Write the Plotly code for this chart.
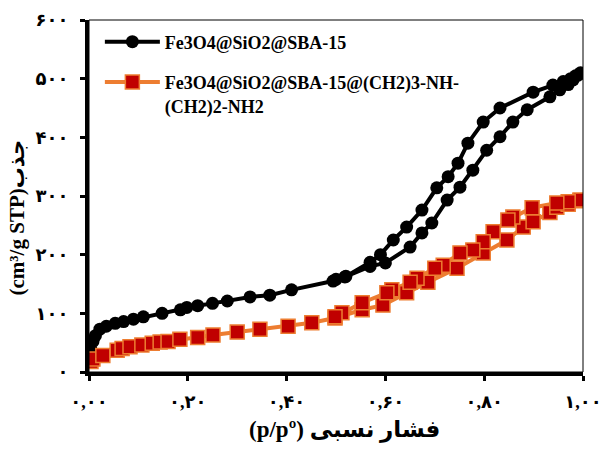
import plotly.graph_objects as go

# Nitrogen sorption isotherm: relative pressure vs adsorbed volume (cm3/g STP)
# Each series runs along the adsorption branch, then back along desorption.
ads_x_sba = [0.002, 0.004, 0.008, 0.013, 0.022, 0.035, 0.053, 0.07, 0.09, 0.11,
             0.148, 0.185, 0.198, 0.22, 0.25, 0.28, 0.326, 0.366, 0.41, 0.494,
             0.518, 0.569, 0.60, 0.65, 0.674, 0.694, 0.725, 0.751, 0.777, 0.805,
             0.832, 0.858, 0.887, 0.933, 0.953, 0.97, 0.98, 0.99]
ads_y_sba = [18, 38, 52, 62, 73, 78, 83, 86, 90, 94,
             100, 106, 110, 113, 117, 121, 128, 131, 140, 155,
             162, 180, 186, 213, 237, 254, 293, 315, 344, 378,
             401, 426, 447, 469, 481, 490, 498, 506]
des_x_sba = [0.995, 0.985, 0.975, 0.96, 0.939, 0.899, 0.832, 0.798, 0.767, 0.747,
             0.727, 0.704, 0.674, 0.643, 0.616, 0.59, 0.569, 0.52, 0.50]
des_y_sba = [510, 505, 500, 495, 489, 477, 450, 426, 390, 356,
             333, 314, 276, 247, 225, 200, 187, 163, 158]

ads_x_amine = [0.004, 0.008, 0.028, 0.057, 0.067, 0.083, 0.107, 0.128, 0.144, 0.16,
               0.184, 0.22, 0.251, 0.30, 0.346, 0.403, 0.451, 0.498, 0.553, 0.595,
               0.643, 0.686, 0.745, 0.798, 0.846, 0.879, 0.899, 0.933, 0.947, 0.97,
               0.994]
ads_y_amine = [18, 22, 28, 37, 40, 43, 46, 49, 51, 52,
               56, 59, 63, 68, 73, 78, 84, 92, 106, 114,
               135, 153, 177, 203, 225, 247, 256, 272, 281, 286,
               292]
des_x_amine = [0.994, 0.97, 0.947, 0.897, 0.858, 0.848, 0.818, 0.798, 0.777, 0.751,
               0.717, 0.70, 0.664, 0.65, 0.613, 0.603, 0.553, 0.512, 0.498]
des_y_amine = [293, 290, 288, 280, 264, 259, 239, 222, 208, 203,
               182, 177, 160, 153, 140, 135, 118, 101, 94]

name_sba = "Fe3O4@SiO2@SBA-15"
name_amine = "Fe3O4@SiO2@SBA-15@(CH2)3-NH-<br>(CH2)2-NH2"

x_tickvals = [0.0, 0.2, 0.4, 0.6, 0.8, 1.0]
x_ticktext = ["۰,۰۰", "۰,۲۰", "۰,۴۰", "۰,۶۰", "۰,۸۰", "۱,۰۰"]
y_tickvals = [0, 100, 200, 300, 400, 500, 600]
y_ticktext = ["۰", "۱۰۰", "۲۰۰", "۳۰۰", "۴۰۰", "۵۰۰", "۶۰۰"]

x_title = "(p/pº) فشار نسبی"
y_title = "(cm³/g STP)جذب"

FONT = "Times New Roman, Liberation Serif, DejaVu Sans, serif"

fig = go.Figure()
fig.add_trace(go.Scatter(
    x=ads_x_sba + des_x_sba, y=ads_y_sba + des_y_sba,
    mode="lines+markers", name=name_sba, legendgroup="a",
    line=dict(color="#000000", width=4),
    marker=dict(symbol="circle", size=13, color="#000000"),
))
fig.add_trace(go.Scatter(
    x=ads_x_amine + des_x_amine, y=ads_y_amine + des_y_amine,
    mode="lines+markers", name=name_amine, legendgroup="b",
    line=dict(color="#ED7D31", width=4),
    marker=dict(symbol="square", size=14, color="#C00000",
                line=dict(color="#ED7D31", width=1.5)),
))

# thin frame on top/right; the left/bottom axis lines are drawn thicker
fig.add_shape(type="rect", xref="paper", yref="paper", x0=0, x1=1, y0=0, y1=1,
              line=dict(color="#000000", width=1), layer="above")

# axis titles placed as annotations
fig.add_annotation(text=x_title, xref="paper", yref="paper", x=0.518, y=-0.165,
                   xanchor="center", yanchor="middle", showarrow=False,
                   font=dict(family=FONT, size=23, weight="bold", color="#000000"))
fig.add_annotation(text=y_title, xref="paper", yref="paper", x=-0.145, y=0.44,
                   xanchor="center", yanchor="middle", showarrow=False, textangle=-90,
                   font=dict(family=FONT, size=21, weight="bold", color="#000000"))

fig.update_layout(
    width=601, height=450,
    margin=dict(l=89, r=18, t=20, b=78),
    paper_bgcolor="white", plot_bgcolor="white",
    font=dict(family=FONT, color="#000000"),
    showlegend=True,
    legend=dict(x=0.022, y=0.99, xanchor="left", yanchor="top",
                bgcolor="rgba(0,0,0,0)", valign="top", traceorder="grouped",
                itemwidth=55,
                font=dict(family=FONT, size=18, color="#000000", weight="bold"),
                tracegroupgap=14),
    xaxis=dict(range=[0, 1], tickvals=x_tickvals, ticktext=x_ticktext,
               automargin=False, showgrid=False, zeroline=False,
               showline=True, linewidth=4, linecolor="#000000",
               ticks="outside", ticklen=5, tickwidth=3, tickcolor="#000000",
               ticklabelstandoff=5, ticklabeloverflow="allow",
               tickfont=dict(family=FONT, size=18, weight="bold")),
    yaxis=dict(range=[0, 600], tickvals=y_tickvals, ticktext=y_ticktext,
               automargin=False, showgrid=False, zeroline=False,
               showline=True, linewidth=4, linecolor="#000000",
               ticks="outside", ticklen=5, tickwidth=3, tickcolor="#000000",
               ticklabelstandoff=8, ticklabeloverflow="allow",
               tickfont=dict(family=FONT, size=18, weight="bold")),
)

fig.write_html("out.html")
